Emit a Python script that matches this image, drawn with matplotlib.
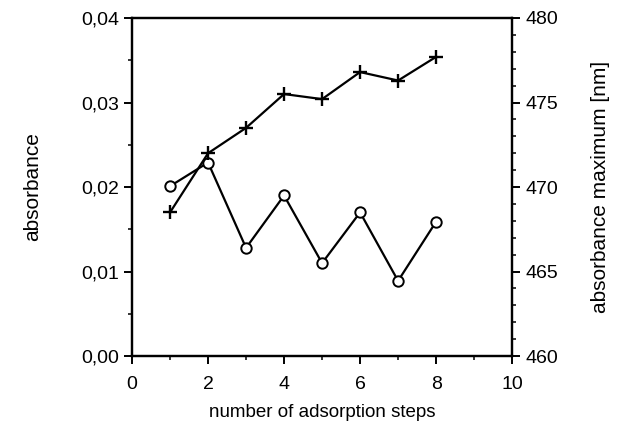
import numpy as np
import matplotlib
matplotlib.use('Agg')
import matplotlib.pyplot as plt
from matplotlib.ticker import FuncFormatter, MultipleLocator

steps = [1, 2, 3, 4, 5, 6, 7, 8]
absorbance = [0.0201, 0.0229, 0.0128, 0.0190, 0.0110, 0.0170, 0.0089, 0.0159]
abs_max_nm = [468.5, 472.0, 473.5, 475.5, 475.2, 476.8, 476.3, 477.7]

plt.rcParams['font.family'] = ['Liberation Sans', 'DejaVu Sans']

fig = plt.figure(figsize=(6.17, 4.28), dpi=100)
ax = fig.add_axes([0.214, 0.168, 0.616, 0.79])
ax2 = ax.twinx()

ax.plot(steps, absorbance, color='black', lw=1.6, marker='o', ms=7.5,
        mfc='white', mec='black', mew=1.4, zorder=3)
ax2.plot(steps, abs_max_nm, color='black', lw=1.6, marker='+', ms=10.5,
         mew=1.7, zorder=3)

ax.set_xlim(0, 10)
ax.set_ylim(0, 0.04)
ax2.set_ylim(460, 480)

ax.xaxis.set_major_locator(MultipleLocator(2))
ax.xaxis.set_minor_locator(MultipleLocator(1))
ax.yaxis.set_major_locator(MultipleLocator(0.01))
ax.yaxis.set_minor_locator(MultipleLocator(0.005))
ax2.yaxis.set_major_locator(MultipleLocator(5))
ax2.yaxis.set_minor_locator(MultipleLocator(1))

ax.yaxis.set_major_formatter(FuncFormatter(lambda v, p: f'{v:.2f}'.replace('.', ',')))

for a in (ax, ax2):
    for s in a.spines.values():
        s.set_linewidth(1.6)
    a.tick_params(which='major', direction='out', length=6, width=1.4, labelsize=14)
    a.tick_params(which='minor', direction='out', length=3, width=1.1)
ax.tick_params(axis='x', which='major', pad=8)

ax.set_xlabel('number of adsorption steps', fontsize=13.5, labelpad=8)
ax.set_ylabel('absorbance', fontsize=15, labelpad=28)
ax2.set_ylabel('absorbance maximum [nm]', fontsize=15, labelpad=24)

fig.savefig('out.png', dpi=100)
